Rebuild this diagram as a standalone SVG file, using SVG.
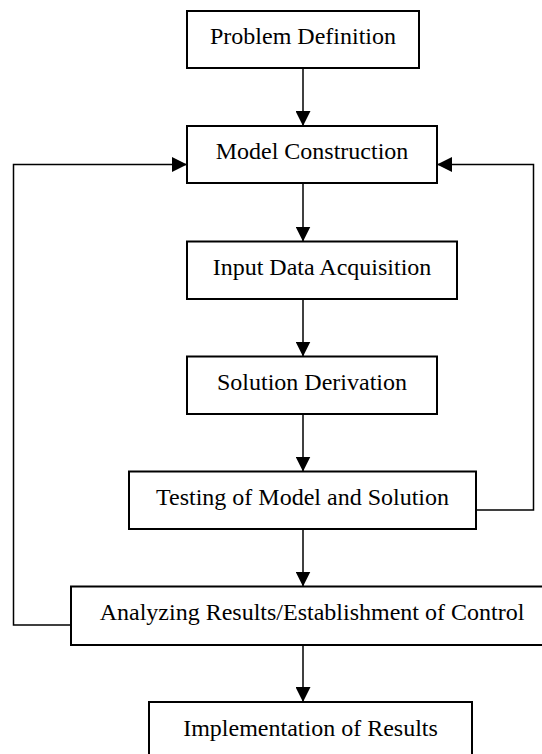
<svg xmlns="http://www.w3.org/2000/svg" width="542" height="754" viewBox="0 0 542 754">
<style>
.box{fill:#fff;stroke:#000;stroke-width:2}
.lbl{font-family:'Liberation Serif','Times New Roman',Tinos,'DejaVu Serif',serif;font-size:24px;fill:#000;text-anchor:middle}
.ln{fill:none;stroke:#000;stroke-width:1.5}
</style>
<defs>
<marker id="ah" viewBox="0 0 15 15" refX="15" refY="7.5" markerWidth="15" markerHeight="15" markerUnits="userSpaceOnUse" orient="auto">
<path d="M0,0 L15,7.5 L0,15 Z" fill="#000"/>
</marker>
</defs>
<rect width="542" height="754" fill="#fff"/>
<g id="connectors">
<line class="ln" x1="303" y1="68" x2="303" y2="126" marker-end="url(#ah)"/>
<line class="ln" x1="303" y1="183" x2="303" y2="241.5" marker-end="url(#ah)"/>
<line class="ln" x1="303" y1="299" x2="303" y2="356.5" marker-end="url(#ah)"/>
<line class="ln" x1="303" y1="414" x2="303" y2="471.5" marker-end="url(#ah)"/>
<line class="ln" x1="303" y1="529" x2="303" y2="586.5" marker-end="url(#ah)"/>
<line class="ln" x1="303" y1="645" x2="303" y2="702" marker-end="url(#ah)"/>
<polyline class="ln" points="71,625 13.5,625 13.5,164.5 187,164.5" marker-end="url(#ah)"/>
<polyline class="ln" points="476,510 533.5,510 533.5,164.5 437,164.5" marker-end="url(#ah)"/>
</g>
<g id="problem-definition">
<rect class="box" x="187" y="11" width="232" height="57"/>
<text class="lbl" x="303" y="44" font-family="Liberation Serif, serif">Problem Definition</text>
</g>
<g id="model-construction">
<rect class="box" x="187" y="126" width="250" height="57"/>
<text class="lbl" x="312" y="158.5">Model Construction</text>
</g>
<g id="input-data-acquisition">
<rect class="box" x="187" y="241.5" width="270" height="57.5"/>
<text class="lbl" x="322" y="275">Input Data Acquisition</text>
</g>
<g id="solution-derivation">
<rect class="box" x="187" y="356.5" width="250" height="57.5"/>
<text class="lbl" x="312" y="390">Solution Derivation</text>
</g>
<g id="testing">
<rect class="box" x="129" y="471.5" width="347" height="57.5"/>
<text class="lbl" x="302.5" y="505">Testing of Model and Solution</text>
</g>
<g id="analyzing">
<rect class="box" x="71" y="586.5" width="482" height="58.5"/>
<text class="lbl" x="312" y="620">Analyzing Results/Establishment of Control</text>
</g>
<g id="implementation">
<rect class="box" x="149" y="702" width="323" height="60"/>
<text class="lbl" x="310.5" y="735.5">Implementation of Results</text>
</g>
</svg>
